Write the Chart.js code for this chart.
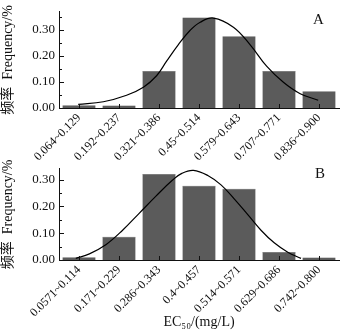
<!DOCTYPE html>
<html>
<head>
<meta charset="utf-8">
<script src="https://cdn.jsdelivr.net/npm/chart.js@4.4.1/dist/chart.umd.min.js"></script>
<style>
  body { margin: 0; background: #fff; }
  #wrap { position: relative; width: 344px; height: 334px; }
  .box { position: absolute; left: 0; width: 344px; }
  .tag { position: absolute; font: 15px 'Liberation Serif', serif; color: #111; }
</style>
</head>
<body>
<div id="wrap">
  <div class="box" style="top:0;height:160px"><canvas id="chartA"></canvas></div>
  <div class="box" style="top:157px;height:177px"><canvas id="chartB"></canvas></div>
  <div class="tag" style="left:313px;top:11px">A</div>
  <div class="tag" style="left:315px;top:165px">B</div>
</div>
<script>
// panel A
var labelsA = ["0.064~0.129", "0.192~0.237", "0.321~0.386", "0.45~0.514", "0.579~0.643", "0.707~0.771", "0.836~0.900"];
var freqA = [0.011, 0.010, 0.142, 0.348, 0.276, 0.142, 0.064];
// fitted curve (x in bar index units)
var curveAx = [-0.02, 0.61, 1.19, 1.61, 1.94, 2.19, 2.48, 2.78, 3.03, 3.36, 3.86, 4.28, 4.69, 5.11, 5.53, 5.98];
var curveAy = [0.014, 0.024, 0.049, 0.080, 0.124, 0.180, 0.243, 0.299, 0.330, 0.346, 0.311, 0.243, 0.161, 0.099, 0.055, 0.030];

// panel B
var labelsB = ["0.0571~0.114", "0.171~0.229", "0.286~0.343", "0.4~0.457", "0.514~0.571", "0.629~0.686", "0.742~0.800"];
var freqB = [0.010, 0.087, 0.321, 0.277, 0.266, 0.030, 0.009];
var curveBx = [-0.08, 0.26, 0.68, 1.09, 1.51, 1.93, 2.34, 2.57, 2.86, 3.22, 3.55, 3.88, 4.22, 4.55, 4.88, 5.22, 5.55];
var curveBy = [0.006, 0.023, 0.058, 0.111, 0.175, 0.239, 0.298, 0.323, 0.334, 0.315, 0.280, 0.228, 0.169, 0.111, 0.064, 0.029, 0.006];

var serif = "'Liberation Serif', 'Noto Sans CJK SC', serif";

// small inward ticks like the original plot
var tickMarks = {
  id: 'tickMarks',
  afterDraw: function(chart) {
    var ctx = chart.ctx, y = chart.scales.y, x = chart.scales.x;
    var left = chart.chartArea.left, bottom = chart.chartArea.bottom;
    ctx.save();
    ctx.strokeStyle = '#111';
    ctx.lineWidth = 1;
    ctx.beginPath();
    for (var v = 0; v <= y.max + 1e-9; v += 0.05) {
      var py = Math.round(y.getPixelForValue(v)) + 0.5;
      var major = Math.round(v * 100) % 10 === 0;
      ctx.moveTo(left, py);
      ctx.lineTo(left + (major ? 5 : 3), py);
    }
    for (var i = 0; i < x.ticks.length; i++) {
      var px = Math.round(x.getPixelForTick(i)) + 0.5;
      ctx.moveTo(px, bottom);
      ctx.lineTo(px, bottom - 4);
    }
    ctx.stroke();
    ctx.restore();
  }
};

function makeChart(id, labels, freq, cx, cy, ymax, xh, padTop, xTitle) {
  var pts = cx.map(function(v, i) { return { x: v, y: cy[i] }; });
  return new Chart(document.getElementById(id), {
    type: 'line',
    data: {
      labels: labels,
      datasets: [{
        type: 'bar',
        data: freq,
        xAxisID: 'x',
        order: 2,
        grouped: false,
        backgroundColor: '#5b5b5b',
        borderColor: '#444',
        borderWidth: 0.5,
        barPercentage: 0.83,
        categoryPercentage: 1
      }, {
        type: 'line',
        data: pts,
        xAxisID: 'xc',
        order: 1,
        borderColor: '#000',
        borderWidth: 1.2,
        pointRadius: 0,
        tension: 0.4,
        fill: false
      }]
    },
    options: {
      responsive: true,
      maintainAspectRatio: false,
      animation: false,
      layout: { padding: { left: 0, right: 5, top: padTop, bottom: 0 } },
      plugins: { legend: { display: false }, tooltip: { enabled: false } },
      scales: {
        x: {
          type: 'category',
          offset: true,
          grid: { display: false, drawTicks: false },
          border: { color: '#111', width: 1 },
          ticks: { color: '#111', font: { family: serif, size: 12 }, maxRotation: 45, minRotation: 45, padding: 3, autoSkip: false },
          title: { display: !!xTitle, text: xTitle || '', color: '#111', font: { family: serif, size: 14 }, padding: { top: 0, bottom: 3 } },
          afterFit: function(s) { s.height = xh; }
        },
        xc: { type: 'linear', display: false, offset: false, min: -0.5, max: 6.5 },
        y: {
          min: 0,
          max: ymax,
          grid: { display: false, drawTicks: false },
          border: { color: '#111', width: 1 },
          ticks: { stepSize: 0.1, includeBounds: false, color: '#111', padding: 4, font: { family: serif, size: 13 },
                   callback: function(v) { return v.toFixed(2); } },
          title: { display: true, text: '频率  Frequency/%', color: '#111', font: { family: serif, size: 14 }, padding: { top: 0, bottom: 0 } },
          afterFit: function(s) { s.width = 59; }
        }
      }
    },
    plugins: [tickMarks]
  });
}

makeChart('chartA', labelsA, freqA, curveAx, curveAy, 0.37, 52, 9, null);
makeChart('chartB', labelsB, freqB, curveBx, curveBy, 0.34, 74, 6, 'EC\u2085\u2080/(mg/L)');
</script>
</body>
</html>
